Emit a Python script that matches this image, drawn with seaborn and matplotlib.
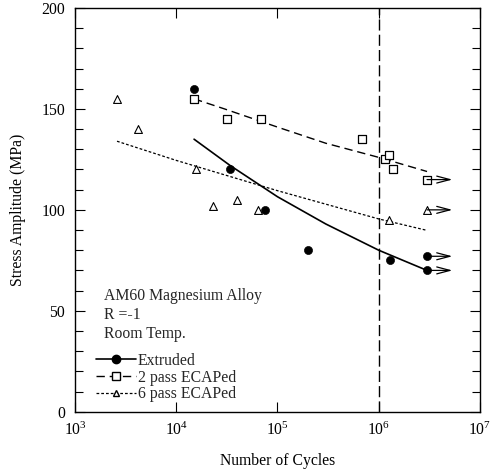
import numpy as np
import matplotlib
matplotlib.use("Agg")
import matplotlib.pyplot as plt
from matplotlib.lines import Line2D
import seaborn as sns

# measured fatigue data (cycles, stress amplitude in MPa)
extruded_cycles = [1.5e4, 3.4e4, 7.6e4, 2.0e5, 1.28e6, 3.0e6, 3.0e6]
extruded_stress = [160, 120, 100, 80, 75, 77, 70]

ecap2_cycles = [1.5e4, 3.15e4, 6.9e4, 6.9e5, 1.16e6, 1.25e6, 1.38e6, 3.0e6]
ecap2_stress = [155, 145, 145, 135, 125, 127, 120, 115]

ecap6_cycles = [2.6e3, 4.2e3, 1.58e4, 2.3e4, 3.95e4, 6.4e4, 1.27e6, 3.0e6]
ecap6_stress = [155, 140, 120, 102, 105, 100, 95, 100]

# fitted S-N curves
extruded_fit_cycles = [1.5e4, 3.4e4, 1e5, 3e5, 1e6, 3e6]
extruded_fit_stress = [135, 122, 106.5, 93, 80, 70]
ecap2_fit_cycles = [1.5e4, 3e4, 1e5, 3e5, 1e6, 3e6]
ecap2_fit_stress = [155, 150, 141, 133, 126, 119]
ecap6_fit_cycles = [2.6e3, 1e4, 1e5, 1e6, 2.9e6]
ecap6_fit_stress = [134, 124.5, 109.5, 95.5, 90]

# run-outs (no failure)
runout_stress = [115, 100, 77, 70]
runout_cycles = 3.0e6

endurance_cycles = 1e6

sns.set_style("ticks")
plt.rcParams["font.family"] = ["Liberation Serif", "DejaVu Serif"]
plt.rcParams["mathtext.fontset"] = "custom"
plt.rcParams["mathtext.rm"] = "Liberation Serif"
plt.rcParams["mathtext.it"] = "Liberation Serif:italic"
fs = 11.3

fig = plt.figure(figsize=(4.96, 4.71), dpi=100)
ax = fig.add_axes([0.1512, 0.1259, 0.8165, 0.8571])

sns.lineplot(x=extruded_fit_cycles, y=extruded_fit_stress, ax=ax, color="black", lw=1.2)
sns.lineplot(x=ecap2_fit_cycles, y=ecap2_fit_stress, ax=ax, color="black", lw=1.0,
             linestyle=(0, (6, 3.5)))
sns.lineplot(x=ecap6_fit_cycles, y=ecap6_fit_stress, ax=ax, color="black", lw=0.9,
             linestyle=(0, (2.2, 1.6)))

sns.scatterplot(x=extruded_cycles, y=extruded_stress, ax=ax, marker="o", s=34,
                color="black", edgecolor="black", zorder=3)
sns.scatterplot(x=ecap2_cycles, y=ecap2_stress, ax=ax, marker="s", s=36,
                facecolor="white", edgecolor="black", linewidth=0.9, zorder=3)
sns.scatterplot(x=ecap6_cycles, y=ecap6_stress, ax=ax, marker="^", s=32,
                facecolor="white", edgecolor="black", linewidth=0.8, zorder=3)

for ys in runout_stress:
    ax.annotate("", xy=(runout_cycles * 1.78, ys), xytext=(runout_cycles, ys),
                arrowprops=dict(arrowstyle="->,head_length=0.95,head_width=0.25",
                                color="black", lw=0.9, shrinkA=0, shrinkB=0))

ax.axvline(endurance_cycles, color="black", lw=1.0, linestyle=(0, (8, 3)))

ax.set_xscale("log")
ax.set_xlim(1e3, 1e7)
ax.set_ylim(0, 200)
ax.set_yticks([0, 50, 100, 150, 200])
ax.set_yticks(np.arange(0, 201, 10), minor=True)
ax.xaxis.set_minor_locator(matplotlib.ticker.NullLocator())
ax.tick_params(which="both", direction="in", top=True, right=True, labelsize=fs,
               width=0.8, color="black", labelcolor="black")
ax.tick_params(which="major", length=7, pad=7)
ax.tick_params(which="minor", length=6)
for sp in ax.spines.values():
    sp.set_linewidth(1.0)
    sp.set_color("black")

ax.set_xlabel("Number of Cycles", fontsize=fs, labelpad=10, color="black")
ax.set_ylabel("Stress Amplitude (MPa)", fontsize=fs, labelpad=11, color="black")

ax.text(1.95e3, 57.5, "AM60 Magnesium Alloy", fontsize=fs, va="center")
ax.text(1.95e3, 48, "R =-1", fontsize=fs, va="center")
ax.text(1.95e3, 38.5, "Room Temp.", fontsize=fs, va="center")

handles = [
    Line2D([], [], color="black", lw=1.2, marker="o", ms=6),
    Line2D([], [], color="black", lw=1.0, linestyle=(0, (6, 3.5)), marker="s", ms=5.5,
           mfc="white"),
    Line2D([], [], color="black", lw=0.9, linestyle=(0, (2.2, 1.6)), marker="^", ms=5,
           mfc="white"),
]
labels = ["Extruded", "2 pass ECAPed", "6 pass ECAPed"]
ax.legend(handles, labels, loc="lower left", bbox_to_anchor=(0.02, -0.008), frameon=False,
          fontsize=fs, handlelength=2.6, handletextpad=0.1, labelspacing=0.05,
          borderpad=0.3)

fig.savefig("out.png", dpi=100)
